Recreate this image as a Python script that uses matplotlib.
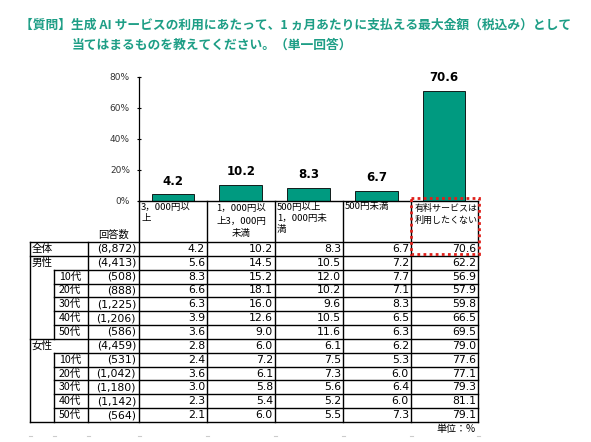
import matplotlib
matplotlib.use("Agg")
import matplotlib.pyplot as plt
from matplotlib.patches import Rectangle

plt.rcParams['font.family'] = ['Noto Sans CJK JP', 'DejaVu Sans']

# data
title1 = "【質問】生成 AI サービスの利用にあたって、1 ヵ月あたりに支払える最大金額（税込み）として"
title2 = "当てはまるものを教えてください。（単一回答）"
headers = ["3，000円以\n上", "1，000円以\n上3，000円\n未満", "500円以上\n1，000円未\n満",
           "500円未満", "有料サービスは\n利用したくない"]
group_labels = ["全体", "男性", "", "", "", "", "", "女性", "", "", "", "", ""]
age_labels = ["", "", "10代", "20代", "30代", "40代", "50代", "", "10代", "20代", "30代", "40代", "50代"]
counts = ["(8,872)", "(4,413)", "(508)", "(888)", "(1,225)", "(1,206)", "(586)",
          "(4,459)", "(531)", "(1,042)", "(1,180)", "(1,142)", "(564)"]
values = [
    [4.2, 10.2, 8.3, 6.7, 70.6],
    [5.6, 14.5, 10.5, 7.2, 62.2],
    [8.3, 15.2, 12.0, 7.7, 56.9],
    [6.6, 18.1, 10.2, 7.1, 57.9],
    [6.3, 16.0, 9.6, 8.3, 59.8],
    [3.9, 12.6, 10.5, 6.5, 66.5],
    [3.6, 9.0, 11.6, 6.3, 69.5],
    [2.8, 6.0, 6.1, 6.2, 79.0],
    [2.4, 7.2, 7.5, 5.3, 77.6],
    [3.6, 6.1, 7.3, 6.0, 77.1],
    [3.0, 5.8, 5.6, 6.4, 79.3],
    [2.3, 5.4, 5.2, 6.0, 81.1],
    [2.1, 6.0, 5.5, 7.3, 79.1],
]
bar_values = values[0]
yticks = [0, 20, 40, 60, 80]

teal = "#009A80"
title_col = "#1E9E86"

W, H = 591, 442
fig = plt.figure(figsize=(W / 100, H / 100), dpi=100)

# layout in pixels
col_x = [139, 207, 275, 343, 411, 478]
x_left, x_age, x_cnt = 30, 54, 88
hdr_top = 201
y_top = 242
row_h = (422 - 242) / 13
ax_top = 76.5

# bar chart
ax = fig.add_axes([col_x[0] / W, 1 - hdr_top / H, (col_x[-1] - col_x[0]) / W, (hdr_top - ax_top) / H])
xs = range(len(bar_values))
ax.bar(xs, bar_values, width=0.63, color=teal, edgecolor="black", linewidth=0.6, zorder=2)
for i, v in enumerate(bar_values):
    ax.annotate(f"{v:.1f}", (i, v), xytext=(0, 5), textcoords="offset points",
                ha="center", va="bottom", fontsize=8.5, fontweight="bold", family="DejaVu Sans")
ax.set_xlim(-0.5, len(bar_values) - 0.5)
ax.set_ylim(0, 80)
ax.set_yticks(yticks)
ax.set_yticklabels([f"{t}%" for t in yticks], fontsize=6.5, family="DejaVu Sans", color="#333333")
ax.set_xticks([])
ax.tick_params(axis="y", direction="inout", length=3, width=0.8, pad=5)
for s in ["top", "right"]:
    ax.spines[s].set_visible(False)
ax.spines["left"].set_linewidth(0.9)
ax.spines["bottom"].set_linewidth(1.0)
ax.patch.set_alpha(0)

# table overlay
ov = fig.add_axes([0, 0, 1, 1])
ov.set_xlim(0, W)
ov.set_ylim(H, 0)
ov.axis("off")
ov.patch.set_alpha(0)

lk = dict(color="black", linewidth=1.0, solid_capstyle="projecting")

ov.text(20, 25, title1, fontsize=9.2, fontweight="bold", color=title_col, va="center", ha="left")
ov.text(72, 45, title2, fontsize=9.2, fontweight="bold", color=title_col, va="center", ha="left")

# header cells
y_bot = y_top + 13 * row_h
for x in col_x:
    ov.plot([x, x], [hdr_top, y_bot], **lk)
for j, h in enumerate(headers):
    if j == 1:
        lines = h.split("\n")
        for k, ln in enumerate(lines):
            ov.text((col_x[j] + col_x[j + 1]) / 2, hdr_top + 7.5 + k * 12.5, ln, fontsize=6.8,
                    ha="center", va="center")
    elif j == 4:
        ov.text(col_x[j] + 3.5, hdr_top + 3, h, fontsize=6.5, ha="left", va="top", linespacing=1.3)
    else:
        ov.text(col_x[j] + 2, hdr_top + 1.5, h, fontsize=6.8, ha="left", va="top", linespacing=1.3)
ov.text((x_cnt + col_x[0]) / 2, 235, "回答数", fontsize=7.4, ha="center", va="center")

# horizontal lines
for r in range(14):
    y = y_top + r * row_h
    start = x_left if r in (0, 1, 7, 13) else x_age
    ov.plot([start, col_x[-1]], [y, y], **lk)
# vertical lines
ov.plot([x_left, x_left], [y_top, y_bot], **lk)
ov.plot([x_cnt, x_cnt], [y_top, y_bot], **lk)
ov.plot([x_age, x_age], [y_top + 2 * row_h, y_top + 7 * row_h], **lk)
ov.plot([x_age, x_age], [y_top + 8 * row_h, y_bot], **lk)

for r in range(13):
    yc = y_top + (r + 0.5) * row_h
    if group_labels[r]:
        ov.text(x_left + 2, yc, group_labels[r], fontsize=7.6, ha="left", va="center")
    if age_labels[r]:
        ov.text(x_age + 5, yc, age_labels[r], fontsize=7.6, ha="left", va="center")
    ov.text(x_cnt + 48, yc, counts[r], fontsize=7.8, ha="right", va="center", family="DejaVu Sans")
    for j, v in enumerate(values[r]):
        ov.text(col_x[j + 1] - 2, yc, f"{v:.1f}", fontsize=7.8, ha="right", va="center",
                family="DejaVu Sans")

ov.text(476, 429, "単位：%", fontsize=7.2, ha="right", va="center")

# faint gridline marks at the bottom
for x in [x_left, x_age, x_cnt] + col_x:
    ov.plot([x - 1.5, x + 1.5], [436, 436], color="#cccccc", linewidth=0.8)

# highlight box
ov.add_patch(Rectangle((410.5, 198), 68.5, 56, fill=False, edgecolor="#E0201B",
                       linestyle=(0, (1, 1.2)), linewidth=2.0, zorder=5))

fig.savefig("out.png", dpi=100)
